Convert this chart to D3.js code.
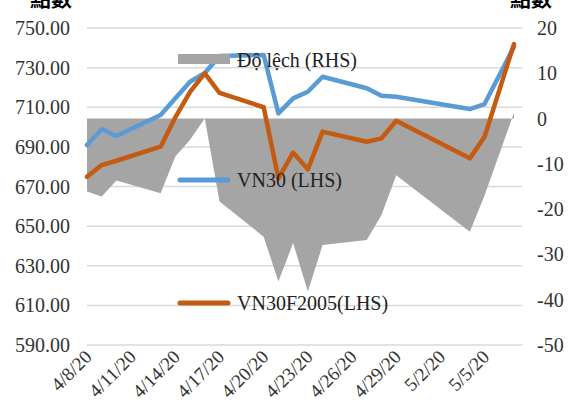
<!DOCTYPE html>
<html>
<head>
<meta charset="utf-8">
<script src="https://cdn.jsdelivr.net/npm/d3@7"></script>
<style>
  body { margin: 0; background: #fff; }
  svg { display: block; }
</style>
</head>
<body>
<script>
// trading dates (m/d/yy, year 2020)
const dates = ["4/8/20","4/9/20","4/10/20","4/13/20","4/14/20","4/15/20","4/16/20","4/17/20",
  "4/20/20","4/21/20","4/22/20","4/23/20","4/24/20","4/27/20","4/28/20","4/29/20",
  "5/4/20","5/5/20","5/7/20"];
const vn30 = [690.9, 698.9, 695.5, 706.1, 714.5, 722.9, 727.3, 735.9,
  736.4, 706.9, 714.5, 717.8, 725.4, 719.6, 715.8, 715.3,
  709.1, 711.6, 740.6];
const vn30f = [674.9, 680.8, 683.0, 690.1, 704.9, 717.8, 727.1, 717.3,
  710.0, 674.1, 687.1, 678.7, 697.7, 692.6, 694.3, 703.2,
  684.2, 695.1, 741.9];
const spread = [-16.1, -17.2, -13.7, -16.5, -8.4, -4.7, 0, -18.3,
  -26.1, -36.0, -27.5, -38.2, -27.9, -26.8, -21.3, -12.5,
  -25.0, -17.0, 1.3];
const leftTicks = [590, 610, 630, 650, 670, 690, 710, 730, 750];
const rightTicks = [-50, -40, -30, -20, -10, 0, 10, 20];
const xTickLabels = ["4/8/20","4/11/20","4/14/20","4/17/20","4/20/20","4/23/20","4/26/20","4/29/20","5/2/20","5/5/20"];

const width = 574, height = 410;
const plot = { left: 87, right: 522, top: 28, bottom: 345 };
const serif = "'Liberation Serif', 'Times New Roman', serif";

const parse = d3.timeParse("%-m/%-d/%y");
const rows = dates.map((d, i) => ({ date: parse(d), a: vn30[i], b: vn30f[i], s: spread[i] }));

const svg = d3.select("body").append("svg")
  .attr("width", width)
  .attr("height", height);

const x = d3.scaleTime()
  .domain([parse("4/8/20"), parse("5/7/20")])
  .range([plot.left, 514]);
const yL = d3.scaleLinear().domain([590, 750]).range([plot.bottom, plot.top]);
const yR = d3.scaleLinear().domain([-50, 20]).range([plot.bottom, plot.top]);

// gridlines
svg.append("g")
  .selectAll("line")
  .data(leftTicks)
  .join("line")
    .attr("x1", plot.left).attr("x2", plot.right)
    .attr("y1", d => yL(d)).attr("y2", d => yL(d))
    .attr("stroke", "#d9d9d9")
    .attr("stroke-width", 1.5);

// left axis labels
svg.append("g")
  .selectAll("text")
  .data(leftTicks)
  .join("text")
    .attr("x", 70)
    .attr("y", d => yL(d))
    .attr("dy", "0.35em")
    .attr("text-anchor", "end")
    .attr("font-family", serif)
    .attr("font-size", 20)
    .attr("fill", "#333")
    .text(d => d3.format(".2f")(d));

// right axis labels
svg.append("g")
  .selectAll("text")
  .data(rightTicks)
  .join("text")
    .attr("x", 537)
    .attr("y", d => yR(d))
    .attr("dy", "0.35em")
    .attr("text-anchor", "start")
    .attr("font-family", serif)
    .attr("font-size", 20)
    .attr("fill", "#333")
    .text(d => d);

// axis titles (cut at the top edge, as in the source)
svg.append("text")
  .attr("x", 51).attr("y", 6)
  .attr("text-anchor", "middle")
  .attr("font-family", "'Noto Sans CJK TC', sans-serif")
  .attr("font-weight", "bold")
  .attr("font-size", 21)
  .text("點數");
svg.append("text")
  .attr("x", 531).attr("y", 6)
  .attr("text-anchor", "middle")
  .attr("font-family", "'Noto Sans CJK TC', sans-serif")
  .attr("font-weight", "bold")
  .attr("font-size", 21)
  .text("點數");

// x tick labels
svg.append("g")
  .selectAll("text")
  .data(xTickLabels)
  .join("text")
    .attr("transform", d => `translate(${x(parse(d)) + 6}, 358) rotate(-45)`)
    .attr("text-anchor", "end")
    .attr("font-family", serif)
    .attr("font-size", 19)
    .attr("fill", "#333")
    .text(d => d);

// spread area (RHS)
const area = d3.area()
  .x(d => x(d.date))
  .y0(yR(0))
  .y1(d => yR(d.s));

svg.append("path")
  .datum(rows)
  .attr("fill", "#a5a5a5")
  .attr("d", area);

// lines (LHS)
const lineA = d3.line().x(d => x(d.date)).y(d => yL(d.a));
const lineB = d3.line().x(d => x(d.date)).y(d => yL(d.b));

svg.append("path")
  .datum(rows)
  .attr("fill", "none")
  .attr("stroke", "#5b9bd5")
  .attr("stroke-width", 4.5)
  .attr("stroke-linejoin", "round")
  .attr("stroke-linecap", "round")
  .attr("d", lineA);

svg.append("path")
  .datum(rows)
  .attr("fill", "none")
  .attr("stroke", "#c55a11")
  .attr("stroke-width", 4.5)
  .attr("stroke-linejoin", "round")
  .attr("stroke-linecap", "round")
  .attr("d", lineB);

// legend
const legend = svg.append("g").attr("font-family", serif).attr("font-size", 20).attr("fill", "#222");

legend.append("rect")
  .attr("x", 178).attr("y", 54).attr("width", 52).attr("height", 10)
  .attr("fill", "#a5a5a5");
legend.append("text").attr("x", 237).attr("y", 60).attr("dy", "0.35em").text("Độ lệch (RHS)");

legend.append("line")
  .attr("x1", 180).attr("x2", 228).attr("y1", 180).attr("y2", 180)
  .attr("stroke", "#5b9bd5").attr("stroke-width", 5).attr("stroke-linecap", "round");
legend.append("text").attr("x", 237).attr("y", 180).attr("dy", "0.35em").text("VN30 (LHS)");

legend.append("line")
  .attr("x1", 180).attr("x2", 228).attr("y1", 303).attr("y2", 303)
  .attr("stroke", "#c55a11").attr("stroke-width", 5).attr("stroke-linecap", "round");
legend.append("text").attr("x", 237).attr("y", 303).attr("dy", "0.35em").text("VN30F2005(LHS)");
</script>
</body>
</html>
